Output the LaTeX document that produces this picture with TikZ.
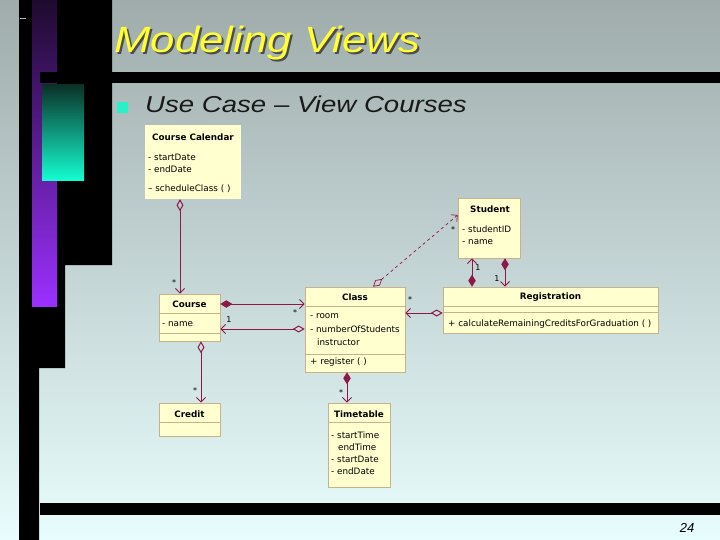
\documentclass[tikz,border=0pt]{standalone}
\usepackage{fontspec}
\setmainfont{Liberation Sans}
\newfontfamily\umlfont{DejaVu Sans}
\usetikzlibrary{arrows.meta,calc}
\definecolor{umlc}{RGB}{140,25,70}
\definecolor{boxfill}{RGB}{255,255,208}
\definecolor{boxline}{RGB}{200,178,140}
\definecolor{bgtop}{RGB}{160,172,172}
\definecolor{bgbot}{RGB}{232,253,253}
\definecolor{purpdark}{RGB}{30,10,46}
\definecolor{purp}{RGB}{155,48,255}
\definecolor{tealdark}{RGB}{10,50,40}
\definecolor{tealbright}{RGB}{20,255,210}
\definecolor{titleyellow}{RGB}{255,255,51}
\definecolor{bulletc}{RGB}{40,240,200}
\tikzset{
  umlbox/.style={draw=boxline, fill=boxfill, line width=0.6pt, inner sep=0pt},
  cname/.style={font=\umlfont\bfseries\fontsize{8.8}{10}\selectfont, inner sep=0pt},
  attr/.style={font=\umlfont\fontsize{8.8}{10}\selectfont, inner sep=0pt, anchor=west},
  mult/.style={font=\umlfont\fontsize{8}{9}\selectfont, inner sep=0pt},
  sepline/.style={draw=boxline, line width=0.6pt},
  assoc/.style={draw=umlc, line width=1pt},
  odia/.style={arrows={Diamond[open,length=12pt,width=7pt]-Straight Barb[length=4.5pt,width=9pt]}},
  fdia/.style={arrows={Diamond[length=12pt,width=7.5pt]-Straight Barb[length=4.5pt,width=9pt]}}
}
\begin{document}
\begin{tikzpicture}[x=1pt,y=-1pt]
\useasboundingbox (0,0) rectangle (720,540);
% background
\shade[top color=bgtop, bottom color=bgbot] (0,0) rectangle (720,540);
% left decoration
\fill[black] (19,0) -- (112,0) -- (112,265) -- (65,265) -- (65,368) -- (39,368) -- (39,540) -- (19,540) -- cycle;
\shade[top color=purpdark, bottom color=purp] (32,0) rectangle (57,306);
\fill[black] (40,72) rectangle (720,83);
\fill[black] (40,503) rectangle (720,515);
\shade[top color=tealdark, bottom color=tealbright] (42,85) rectangle (84,181);
\draw[gray!60, line width=0.8pt] (20,18) -- (26,18);
% title
\node[anchor=base west, inner sep=0pt, text=black!70, font=\itshape\fontsize{36.5}{40}\selectfont] (titlesh) at (116,55) {\scalebox{1.2}[1]{Modeling Views}};
\node[anchor=base west, inner sep=0pt, text=titleyellow, font=\itshape\fontsize{36.5}{40}\selectfont] (title) at (114,53) {\scalebox{1.2}[1]{Modeling Views}};
% bullet + subtitle
\node[fill=bulletc, minimum size=11pt, inner sep=0pt] (bullet) at (122.5,107.5) {};
\node[anchor=base west, inner sep=0pt, text=black!90, font=\itshape\fontsize{23}{26}\selectfont] (sub) at (145,113) {\scalebox{1.2}[1]{Use Case – View Courses}};
% page number
\node[inner sep=0pt, font=\itshape\fontsize{13}{15}\selectfont] (page) at (687,528) {24};

% ---- classes ----
% Course Calendar
\node[fill=boxfill, inner sep=0pt, minimum width=96pt, minimum height=74pt] (cal) at (193,162) {};
\node[cname] (calt) at (193,137) {Course Calendar};
\node[attr] (cala1) at (148,157) {- startDate};
\node[attr] (cala2) at (148,169) {- endDate};
\node[attr] (calo1) at (148,189) {– scheduleClass ( )};

% Student
\node[umlbox, minimum width=62pt, minimum height=60pt] (stu) at (489,228) {};
\node[cname] (stut) at (490,209) {Student};
\node[attr] (stua1) at (462,229) {- studentID};
\node[attr] (stua2) at (462,242) {- name};

% Registration
\node[umlbox, minimum width=215pt, minimum height=46pt] (reg) at (550.5,310) {};
\node[cname] (regt) at (550.5,297) {Registration};
\draw[sepline] ([yshift=-20pt]reg.north west) -- ([yshift=-20pt]reg.north east);
\draw[sepline] ([yshift=-26pt]reg.north west) -- ([yshift=-26pt]reg.north east);
\node[attr] (rego1) at (448,324) {+ calculateRemainingCreditsForGraduation ( )};

% Class
\node[umlbox, minimum width=100pt, minimum height=85pt] (cls) at (355,329.5) {};
\node[cname] (clst) at (355,297) {Class};
\draw[sepline] ([yshift=-20pt]cls.north west) -- ([yshift=-20pt]cls.north east);
\node[attr] (clsa1) at (310,316) {- room};
\node[attr] (clsa2) at (310,329) {- numberOfStudents};
\node[attr] (clsa3) at (317,342) {instructor};
\draw[sepline] ([yshift=-68pt]cls.north west) -- ([yshift=-68pt]cls.north east);
\node[attr] (clso1) at (310,362) {+ register ( )};

% Course
\node[umlbox, minimum width=61pt, minimum height=47pt] (crs) at (189.5,317.5) {};
\node[cname] (crst) at (189.5,304) {Course};
\draw[sepline] ([yshift=-20pt]crs.north west) -- ([yshift=-20pt]crs.north east);
\node[attr] (crsa1) at (162,324) {- name};
\draw[sepline] ([yshift=-40pt]crs.north west) -- ([yshift=-40pt]crs.north east);

% Credit
\node[umlbox, minimum width=61pt, minimum height=33pt] (cre) at (189.5,419.5) {};
\node[cname] (cret) at (189.5,414) {Credit};
\draw[sepline] ([yshift=-20pt]cre.north west) -- ([yshift=-20pt]cre.north east);

% Timetable
\node[umlbox, minimum width=62pt, minimum height=84pt] (tim) at (359,445) {};
\node[cname] (timt) at (359,414) {Timetable};
\draw[sepline] ([yshift=-20pt]tim.north west) -- ([yshift=-20pt]tim.north east);
\node[attr] (tima1) at (331,435) {- startTime};
\node[attr] (tima2) at (338,447) {endTime};
\node[attr] (tima3) at (331,459) {- startDate};
\node[attr] (tima4) at (331,471) {- endDate};

% ---- connectors ----
\draw[assoc, odia] ([xshift=-13pt]cal.south) -- ([xshift=-9.5pt]crs.north);
\node[mult] (m1) at (174,283) {*};
\draw[assoc, fdia] ([yshift=13.5pt]crs.east) -- ([yshift=25.5pt]cls.west);
\node[mult] (m2) at (295,313) {*};
\draw[assoc, odia] ([yshift=0.5pt]cls.west) -- ([yshift=-11.5pt]crs.east);
\node[mult] (m3) at (229,320) {1};
\draw[assoc, odia] ([xshift=11.5pt]crs.south) -- ([xshift=11.5pt]cre.north);
\node[mult] (m4) at (195,391) {*};
\draw[assoc, fdia] ([xshift=-8pt]cls.south) -- ([xshift=-12pt]tim.north);
\node[mult] (m5) at (341,393) {*};
\draw[assoc, odia, dashed, line width=0.7pt] ([xshift=18pt]cls.north) -- ([yshift=13pt]stu.west);
\node[mult] (m6) at (453,230) {*};
\draw[assoc, odia] ([yshift=-3pt]reg.west) -- ([yshift=16.5pt]cls.east);
\node[mult] (m7) at (410,300) {*};
\draw[assoc, fdia] ([xshift=-78.5pt]reg.north) -- ([xshift=-17pt]stu.south);
\node[mult] (m8) at (478,268) {1};
\draw[assoc, fdia] ([xshift=16pt]stu.south) -- ([xshift=-45.5pt]reg.north);
\node[mult] (m9) at (497,279) {1};
\end{tikzpicture}
\end{document}
